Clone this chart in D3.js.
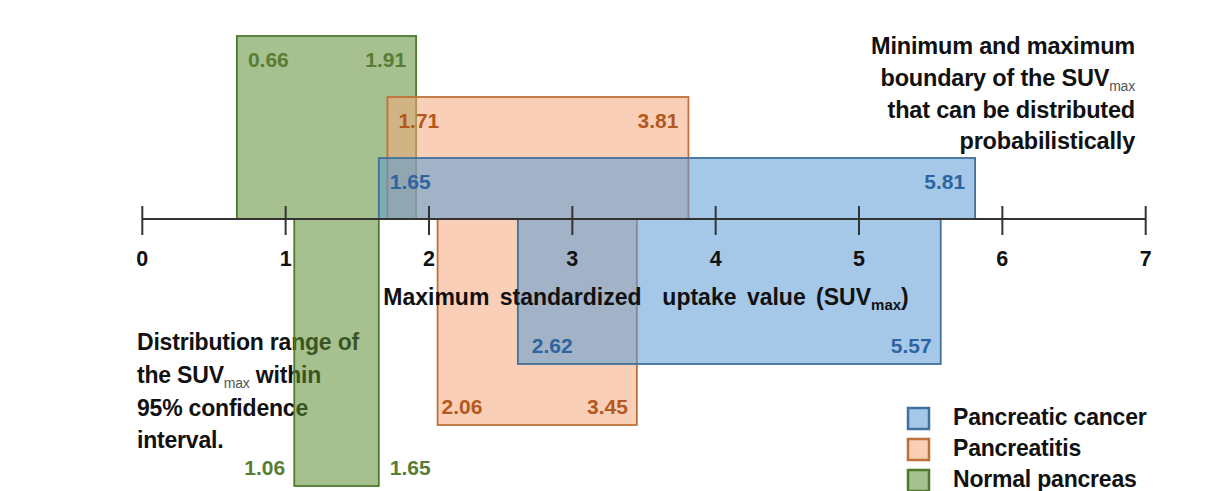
<!DOCTYPE html>
<html>
<head>
<meta charset="utf-8">
<script src="https://cdn.jsdelivr.net/npm/d3@7"></script>
<style>
  body { margin: 0; background: #fff; }
  svg text { font-family: "Liberation Sans", Arial, sans-serif; font-weight: bold; }
</style>
</head>
<body>
<div id="chart"></div>
<script>
// datos
var categories = ["Pancreatic cancer", "Pancreatitis", "Normal pancreas"];
var boundMin = [1.65, 1.71, 0.66];   // limite min (caja superior)
var boundMax = [5.81, 3.81, 1.91];   // limite max (caja superior)
var ciMin = [2.62, 2.06, 1.06];      // IC 95% min (caja inferior)
var ciMax = [5.57, 3.45, 1.65];      // IC 95% max (caja inferior)
var tickValues = [0, 1, 2, 3, 4, 5, 6, 7];

var fills = ["#5b9bd5", "#f4aa7c", "#5f8c33"];
var strokes = ["#41719c", "#c0703a", "#4f7a2e"];
var labelColors = ["#2e64a0", "#b4581e", "#587d34"];

var width = 1217, height = 491;
var axisY = 219;
var step = 61;
var numSize = 21;

var svg = d3.select("#chart").append("svg")
    .attr("width", width)
    .attr("height", height);

var x = d3.scaleLinear().domain([0, 7]).range([142.3, 1145.7]);

// textos de anotacion (debajo de las cajas)
var leftNote = svg.append("text").attr("y", 350).attr("font-size", 23).attr("fill", "#111")
    .attr("letter-spacing", -0.2);
leftNote.append("tspan").attr("x", 137).attr("dy", 0).text("Distribution range of");
leftNote.append("tspan").attr("x", 137).attr("dy", 33).text("the SUV");
leftNote.append("tspan").attr("font-size", 14).attr("font-weight", "normal").attr("fill", "#555").attr("dy", 5).text("max");
leftNote.append("tspan").attr("dy", -5).text(" within");
leftNote.append("tspan").attr("x", 137).attr("dy", 32.5).text("95% confidence");
leftNote.append("tspan").attr("x", 137).attr("dy", 32.5).text("interval.");

var rightNote = svg.append("text").attr("text-anchor", "end").attr("font-size", 23.5).attr("fill", "#111")
    .attr("letter-spacing", -0.2);
rightNote.append("tspan").attr("x", 1135).attr("y", 54).text("Minimum and maximum");
var r2 = rightNote.append("tspan").attr("x", 1135).attr("y", 86);
r2.append("tspan").text("boundary of the SUV");
r2.append("tspan").attr("font-size", 14).attr("font-weight", "normal").attr("fill", "#555").attr("dy", 5).text("max");
rightNote.append("tspan").attr("x", 1135).attr("y", 118).text("that can be distributed");
rightNote.append("tspan").attr("x", 1135).attr("y", 149).text("probabilistically");

// cajas: orden verde, naranja, azul
var order = [2, 1, 0];

order.forEach(function (i) {
    var level = i + 1;
    // caja superior (limites)
    svg.append("rect")
        .attr("x", x(boundMin[i]))
        .attr("y", axisY - step * level)
        .attr("width", x(boundMax[i]) - x(boundMin[i]))
        .attr("height", step * level)
        .attr("fill", fills[i]).attr("fill-opacity", 0.55)
        .attr("stroke", strokes[i]).attr("stroke-width", 1.8);
    // caja inferior (IC 95%)
    svg.append("rect")
        .attr("x", x(ciMin[i]))
        .attr("y", axisY)
        .attr("width", x(ciMax[i]) - x(ciMin[i]))
        .attr("height", 84 + step * level)
        .attr("fill", fills[i]).attr("fill-opacity", 0.55)
        .attr("stroke", strokes[i]).attr("stroke-width", 1.8);
});

// eje (encima de las cajas)
svg.append("line")
    .attr("x1", x(0)).attr("x2", x(7))
    .attr("y1", axisY).attr("y2", axisY)
    .attr("stroke", "#333").attr("stroke-width", 2);

svg.selectAll("line.tick")
    .data(tickValues)
    .enter().append("line")
    .attr("class", "tick")
    .attr("x1", d => x(d)).attr("x2", d => x(d))
    .attr("y1", axisY - 13).attr("y2", axisY + 16)
    .attr("stroke", "#333").attr("stroke-width", 2);

svg.selectAll("text.ticklabel")
    .data(tickValues)
    .enter().append("text")
    .attr("class", "ticklabel")
    .attr("x", d => x(d))
    .attr("y", 266)
    .attr("text-anchor", "middle")
    .attr("font-size", 21.5)
    .attr("fill", "#111")
    .text(d => d);

// etiquetas de valores
order.forEach(function (i) {
    var level = i + 1;
    var topY = axisY - step * level + 31;
    var botY = axisY + 84 + step * level - 11;
    svg.append("text")
        .attr("x", x(boundMin[i]) + 11).attr("y", topY)
        .attr("font-size", numSize).attr("fill", labelColors[i])
        .text(boundMin[i].toFixed(2));
    svg.append("text")
        .attr("x", x(boundMax[i]) - 10).attr("y", topY)
        .attr("text-anchor", "end")
        .attr("font-size", numSize).attr("fill", labelColors[i])
        .text(boundMax[i].toFixed(2));
    if (i === 2) {
        // normal: etiquetas fuera de la caja
        svg.append("text")
            .attr("x", x(ciMin[i]) - 9).attr("y", botY)
            .attr("text-anchor", "end")
            .attr("font-size", numSize).attr("fill", labelColors[i])
            .text(ciMin[i].toFixed(2));
        svg.append("text")
            .attr("x", x(ciMax[i]) + 11).attr("y", botY)
            .attr("font-size", numSize).attr("fill", labelColors[i])
            .text(ciMax[i].toFixed(2));
    } else {
        svg.append("text")
            .attr("x", x(ciMin[i]) + (i === 1 ? 4 : 14)).attr("y", botY)
            .attr("font-size", numSize).attr("fill", labelColors[i])
            .text(ciMin[i].toFixed(2));
        svg.append("text")
            .attr("x", x(ciMax[i]) - 9).attr("y", botY)
            .attr("text-anchor", "end")
            .attr("font-size", numSize).attr("fill", labelColors[i])
            .text(ciMax[i].toFixed(2));
    }
});

// titulo del eje
var title = svg.append("text")
    .attr("x", 646).attr("y", 305)
    .attr("text-anchor", "middle")
    .attr("font-size", 23).attr("fill", "#111")
    .attr("word-spacing", 4)
    .attr("xml:space", "preserve");
title.append("tspan").text("Maximum standardized  uptake value (SUV");
title.append("tspan").attr("font-size", 15).attr("dy", 5).text("max");
title.append("tspan").attr("dy", -5).text(")");

// leyenda
var legend = svg.selectAll("g.legend")
    .data(categories)
    .enter().append("g")
    .attr("class", "legend")
    .attr("transform", (d, i) => "translate(908," + (408 + i * 31) + ")");

legend.append("rect")
    .attr("width", 21).attr("height", 21)
    .attr("fill", (d, i) => fills[i]).attr("fill-opacity", 0.55)
    .attr("stroke", (d, i) => strokes[i]).attr("stroke-width", 2.5);

legend.append("text")
    .attr("x", 45).attr("y", 17)
    .attr("font-size", 23).attr("fill", "#111")
    .attr("letter-spacing", -0.2)
    .text(d => d);
</script>
</body>
</html>
